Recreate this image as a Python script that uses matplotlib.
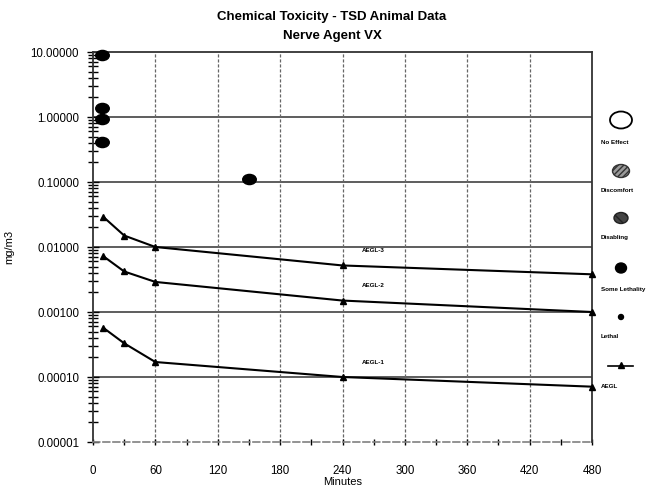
import matplotlib
matplotlib.use("Agg")
import numpy as np
import matplotlib.pyplot as plt
from matplotlib.patches import Ellipse
from matplotlib.path import Path
from matplotlib.ticker import FixedLocator, LogLocator, NullFormatter, FuncFormatter

plt.rcParams['font.family'] = ['Liberation Sans', 'DejaVu Sans']

# AEGL exposure durations (minutes) and concentrations (mg/m3)
aegl_minutes = [10, 30, 60, 240, 480]
aegl3 = [0.029, 0.015, 0.010, 0.0052, 0.0038]
aegl2 = [0.0072, 0.0042, 0.0029, 0.0015, 0.0010]
aegl1 = [0.00057, 0.00033, 0.00017, 0.00010, 0.000071]
aegl_names = ["AEGL-3", "AEGL-2", "AEGL-1"]

# Animal data points with some lethality
lethality_minutes = [9, 9, 9, 9, 150]
lethality_conc = [9.0, 1.4, 0.93, 0.41, 0.11]

x_ticks = [0, 60, 120, 180, 240, 300, 360, 420, 480]
x_tick_labels = ["0", "60", "120", "180", "240", "300", "360", "420", "480"]
y_ticks = [1e-5, 1e-4, 1e-3, 1e-2, 1e-1, 1, 10]

legend_labels = ["No Effect", "Discomfort", "Disabling", "Some Lethality", "Lethal", "AEGL"]

W, H = 662, 487
fig = plt.figure(figsize=(W / 100, H / 100), dpi=100)
ax = fig.add_axes([93 / W, 45 / H, 499 / W, 390 / H])

ax.set_yscale('log')
ax.set_xlim(0, 480)
ax.set_ylim(1e-5, 10)

# grid
for yv in y_ticks[1:-1]:
    ax.axhline(yv, color='#505050', lw=1.3, zorder=1)
for xv in x_ticks[1:-1]:
    ax.axvline(xv, color='#666666', lw=0.9, ls=(0, (2.5, 1.5)), zorder=1)

# AEGL curves
for vals, name in zip([aegl3, aegl2, aegl1], aegl_names):
    ax.plot(aegl_minutes, vals, color='black', lw=1.5, marker='^', ms=4.5,
            clip_on=False, zorder=3)
    ax.text(270, vals[3] * 1.55, name, fontsize=4.5, fontweight='bold',
            ha='center', va='bottom')

# animal lethality points, drawn as flattened dots
circ = Path.unit_circle()
oval = Path(circ.vertices * np.array([1.0, 0.75]), circ.codes)
ax.scatter(lethality_minutes, lethality_conc, s=95, marker=oval, color='black',
           clip_on=False, zorder=4)

# ticks
ax.xaxis.set_major_locator(FixedLocator(x_ticks))
ax.set_xticklabels(x_tick_labels)
ax.xaxis.set_minor_locator(FixedLocator(list(range(30, 480, 60))))
ax.yaxis.set_major_locator(FixedLocator(y_ticks))
ax.yaxis.set_major_formatter(FuncFormatter(lambda v, p: f"{v:.5f}"))
ax.yaxis.set_minor_locator(LogLocator(base=10, subs=range(2, 10)))
ax.yaxis.set_minor_formatter(NullFormatter())
ax.tick_params(axis='y', which='major', direction='inout', length=8, width=1.0, labelsize=8.3, pad=6)
ax.tick_params(axis='y', which='minor', direction='inout', length=7, width=1.0)
ax.tick_params(axis='x', which='major', direction='inout', length=5, width=1.0, labelsize=8.3, pad=14)
ax.tick_params(axis='x', which='minor', direction='inout', length=5, width=1.0)
ax.tick_params(right=False, top=False)

for s in ['left', 'right', 'top']:
    ax.spines[s].set_linewidth(1.3)
    ax.spines[s].set_color('#333333')
ax.spines['bottom'].set_linestyle((0, (4, 2)))
ax.spines['bottom'].set_color('#808080')
ax.spines['bottom'].set_linewidth(1.2)

ax.set_xlabel("Minutes", fontsize=8, labelpad=0)
ax.set_ylabel("mg/m3", fontsize=8, labelpad=12)

fig.text(332 / W, 1 - 17 / H, "Chemical Toxicity - TSD Animal Data", ha='center', va='center',
         fontsize=9.5, fontweight='bold')
fig.text(332 / W, 1 - 36 / H, "Nerve Agent VX", ha='center', va='center',
         fontsize=9.5, fontweight='bold')

# symbol key in pixel coordinates
kx = fig.add_axes([590 / W, 0, 72 / W, 1])
kx.set_xlim(590, 662)
kx.set_ylim(H, 0)
kx.axis('off')
cx = 621
kx.add_patch(Ellipse((cx, 120), 22, 17, facecolor='white', edgecolor='black', lw=1.3))
kx.add_patch(Ellipse((cx, 171), 17, 13, facecolor='#9a9a9a', edgecolor='#333333', lw=1.0, hatch='//////'))
kx.add_patch(Ellipse((cx, 218), 14, 11, facecolor='#444444', edgecolor='#222222', lw=1.0, hatch='\\\\\\'))
kx.add_patch(Ellipse((cx, 268), 11, 10, facecolor='black', edgecolor='black'))
kx.add_patch(Ellipse((cx, 317), 5, 5, facecolor='black', edgecolor='black'))
kx.plot([608, 633], [366, 366], color='black', lw=1.2)
kx.plot([cx], [365], marker='^', color='black', ms=4)
label_y = [142, 190, 237, 289, 337, 386]
for lab, ly in zip(legend_labels, label_y):
    kx.text(601, ly, lab, fontsize=4.5, fontweight='bold', ha='left', va='center')

fig.savefig("out.png", dpi=100)
